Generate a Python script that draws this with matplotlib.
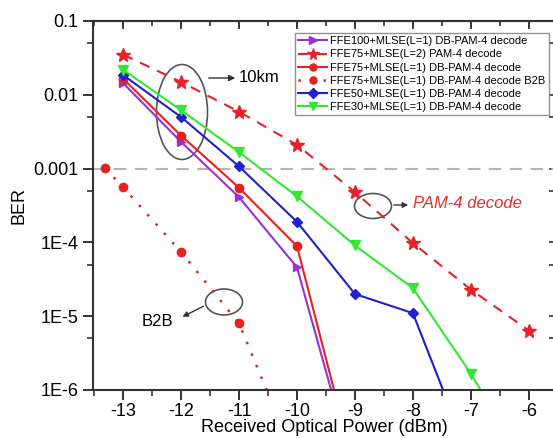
import matplotlib
matplotlib.use("Agg")
import matplotlib.pyplot as plt
from matplotlib.patches import Ellipse
from matplotlib.ticker import FixedLocator, FixedFormatter, MultipleLocator, NullFormatter

plt.rcParams['font.family'] = ['Liberation Sans', 'DejaVu Sans']
plt.rcParams['axes.unicode_minus'] = False

# received optical power (dBm)
pw_a = [-13, -12, -11, -10, -9]
pw_b = [-13, -12, -11, -10, -9, -8, -7]
pw_c = [-13, -12, -11, -10, -9, -8, -7, -6]
pw_b2b = [-13.31, -13, -12, -11, -10]

ber_ffe100 = [0.0144, 0.0023, 0.00041, 4.6e-5, 7e-8]
ber_ffe75_l2 = [0.035, 0.0149, 0.0059, 0.0021, 4.8e-4, 9.8e-5, 2.3e-5, 6.4e-6]
ber_ffe75 = [0.0165, 0.0028, 0.00055, 8.9e-5, 8e-8]
ber_ffe75_b2b = [0.00101, 0.00056, 7.4e-5, 8e-6, 1e-7]
ber_ffe50 = [0.0185, 0.005, 0.00107, 1.9e-4, 2.0e-5, 1.1e-5, 1.1e-7]
ber_ffe30 = [0.0218, 0.0062, 0.00167, 4.2e-4, 9.1e-5, 2.4e-5, 1.67e-6, 8e-8]

ytick_vals = [1e-6, 1e-5, 1e-4, 1e-3, 1e-2, 1e-1]
ytick_text = ['1E-6', '1E-5', '1E-4', '0.001', '0.01', '0.1']

fig = plt.figure(figsize=(5.53, 4.38), dpi=100)
ax = fig.add_axes([93/553, 1 - 390/438, 463/553, 369/438])

ax.axhline(1e-3, color='#b5b5b5', ls=(0, (6, 4)), lw=1.5, zorder=1)

ax.plot(pw_a, ber_ffe100, color='#9b30d9', marker='>', ms=6, lw=1.5,
        label='FFE100+MLSE(L=1) DB-PAM-4 decode')
ax.plot(pw_c, ber_ffe75_l2, color='#e8202a', marker='*', ms=10, lw=1.5,
        ls=(0, (5, 4)), label='FFE75+MLSE(L=2) PAM-4 decode')
ax.plot(pw_a, ber_ffe75, color='#e82020', marker='o', ms=6, lw=1.5,
        label='FFE75+MLSE(L=1) DB-PAM-4 decode')
ax.plot(pw_b2b, ber_ffe75_b2b, color='#e82020', marker='o', ms=6, lw=1.8,
        ls=(0, (1, 4)), label='FFE75+MLSE(L=1) DB-PAM-4 decode B2B')
ax.plot(pw_b, ber_ffe50, color='#2020d0', marker='D', ms=5.5, lw=1.5,
        label='FFE50+MLSE(L=1) DB-PAM-4 decode')
ax.plot(pw_c, ber_ffe30, color='#33e633', marker='v', ms=6.5, lw=1.5,
        label='FFE30+MLSE(L=1) DB-PAM-4 decode')

ax.set_yscale('log')
ax.set_ylim(1e-6, 0.1)
ax.set_xlim(-13.52, -5.53)

ax.yaxis.set_major_locator(FixedLocator(ytick_vals))
ax.yaxis.set_major_formatter(FixedFormatter(ytick_text))
ax.yaxis.set_minor_locator(FixedLocator([5e-6, 5e-5, 5e-4, 5e-3, 5e-2]))
ax.yaxis.set_minor_formatter(NullFormatter())
ax.xaxis.set_major_locator(MultipleLocator(1))
ax.xaxis.set_minor_locator(MultipleLocator(0.5))

for s in ax.spines.values():
    s.set_linewidth(1.5)
    s.set_color('#333333')

ax.tick_params(which='major', direction='out', length=7, width=1.4,
               labelsize=13, color='#333333')
ax.tick_params(axis='x', which='major', pad=2)
ax.tick_params(which='minor', direction='out', length=4, width=1.2, color='#333333')

top = ax.secondary_xaxis('top')
top.xaxis.set_major_locator(MultipleLocator(1))
top.xaxis.set_minor_locator(MultipleLocator(0.5))
top.tick_params(which='major', direction='in', length=6, width=1.4, labeltop=False, color='#333333')
top.tick_params(which='minor', direction='in', length=3.5, width=1.2, color='#333333')
top.spines['top'].set_linewidth(1.5)

right = ax.secondary_yaxis('right')
right.set_yscale('log')
right.yaxis.set_major_locator(FixedLocator(ytick_vals))
right.yaxis.set_minor_locator(FixedLocator([5e-6, 5e-5, 5e-4, 5e-3, 5e-2]))
right.tick_params(which='both', direction='in', length=5, width=1.2, labelright=False, color='#333333')
right.yaxis.set_minor_formatter(NullFormatter())

ax.set_xlabel('Received Optical Power (dBm)', fontsize=13)
ax.xaxis.set_label_coords(0.5, -(428 - 390) / 369)
ax.xaxis.label.set_va('center')
ax.set_ylabel('BER', fontsize=13, labelpad=4)

leg = ax.legend(loc='upper right', bbox_to_anchor=(549/553, 1 - 33/438),
                bbox_transform=fig.transFigure, borderaxespad=0, fontsize=8,
                frameon=True, fancybox=False, edgecolor='#777777',
                labelspacing=0.28, handlelength=2.6, handletextpad=0.3,
                borderpad=0.3, markerscale=0.85)
leg.get_frame().set_linewidth(1.0)

# annotations (axes-fraction coordinates)
def fx(px):
    return (px - 93) / 463

def fy(py):
    return (390 - py) / 369

ax.add_patch(Ellipse((fx(182), fy(112)), 51/463, 95/369, transform=ax.transAxes,
                     fill=False, ec='#555555', lw=1.2))
ax.annotate('', xy=(fx(238), fy(78)), xytext=(fx(206), fy(78)), xycoords='axes fraction',
            arrowprops=dict(arrowstyle='-|>', color='#333333', lw=1.0, mutation_scale=9))
ax.text(fx(239), fy(78), '10km', transform=ax.transAxes, fontsize=12, va='center', ha='left')

ax.add_patch(Ellipse((fx(373), fy(206)), 37/463, 25/369, transform=ax.transAxes,
                     fill=False, ec='#555555', lw=1.2))
ax.annotate('', xy=(fx(411), fy(205)), xytext=(fx(391), fy(205)), xycoords='axes fraction',
            arrowprops=dict(arrowstyle='-|>', color='#333333', lw=1.0, mutation_scale=8))
ax.text(fx(413), fy(204), 'PAM-4 decode', transform=ax.transAxes, fontsize=12,
        style='italic', color='#e03030', va='center', ha='left')

ax.add_patch(Ellipse((fx(224), fy(302)), 37/463, 26/369, transform=ax.transAxes,
                     fill=False, ec='#555555', lw=1.2))
ax.annotate('', xy=(fx(180), fy(318)), xytext=(fx(206), fy(305)), xycoords='axes fraction',
            arrowprops=dict(arrowstyle='-|>', color='#333333', lw=1.0, mutation_scale=8))
ax.text(fx(157), fy(322), 'B2B', transform=ax.transAxes, fontsize=12, va='center', ha='center')

fig.savefig('out.png', dpi=100)
